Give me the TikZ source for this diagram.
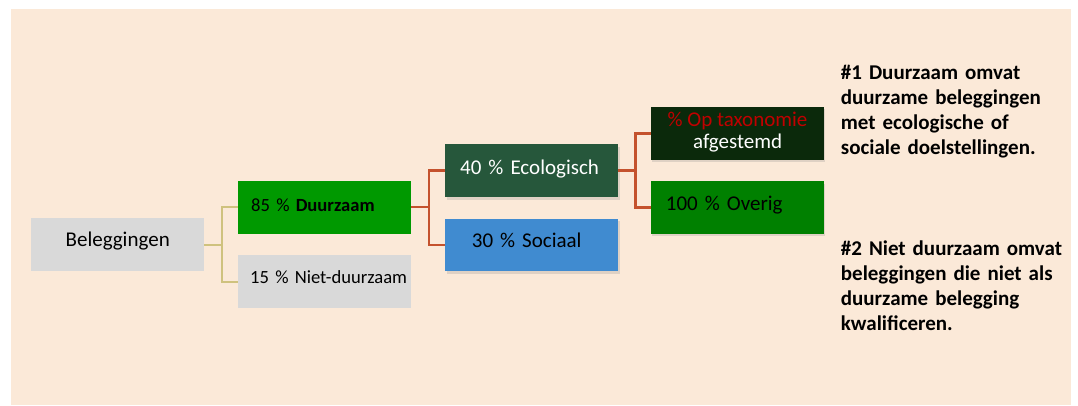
\documentclass[tikz,border=0pt]{standalone}
\usepackage{fontspec}
\setmainfont{Carlito}
\usetikzlibrary{shadows}
\definecolor{bgc}{HTML}{FBE9D8}
\definecolor{greyc}{HTML}{D9D9D9}
\definecolor{duuc}{HTML}{009900}
\definecolor{ecoc}{HTML}{26573B}
\definecolor{socc}{HTML}{408BD0}
\definecolor{taxc}{HTML}{0B290B}
\definecolor{ovec}{HTML}{008000}
\definecolor{redtxt}{HTML}{C00000}
\definecolor{redln}{HTML}{C4522D}
\definecolor{oliveln}{HTML}{CFC27E}
\begin{document}
\begin{tikzpicture}[x=1pt,y=-1pt,
  box/.style={draw=none, minimum width=173pt, minimum height=52.8pt, inner ysep=0pt,
    text depth=0pt, anchor=north west, font=\fontsize{21}{25}\selectfont},
  lbox/.style={box, inner xsep=0pt, text width=173pt, align=left},
  smallfont/.style={font=\fontsize{18.6}{22}\selectfont},
  shade/.style={drop shadow={opacity=0.22, shadow xshift=1.5pt, shadow yshift=-2.5pt}},
  oconn/.style={draw=oliveln, line width=2pt},
  rconn/.style={draw=redln, line width=2.4pt},
  note/.style={anchor=base west, inner sep=0pt, text width=240pt, align=left,
    font=\fontsize{21}{25}\selectfont\bfseries},
  txt/.style={anchor=base, inner sep=0pt, font=\fontsize{21}{25}\selectfont}]
\useasboundingbox (0,0) rectangle (1078,405);
\fill[bgc] (11,9) rectangle (1071,405);

\node[box, fill=greyc, text height=4.7pt] (bel) at (31,218) {Beleggingen};
\node[lbox, smallfont, fill=duuc, text height=8.7pt]
  (duu) at (238,180.5) {\hspace*{13pt}85 \% \textbf{Duurzaam}};
\node[lbox, smallfont, fill=greyc, text height=3.9pt]
  (niet) at (238,255) {\hspace*{12pt}15 \% Niet-duurzaam};
\node[lbox, shade, fill=ecoc, text=white, text height=7.9pt]
  (eco) at (445,144) {\hspace*{15pt}40 \% Ecologisch};
\node[lbox, shade, fill=socc, text height=5.6pt]
  (soc) at (445,218.3) {\hspace*{26.7pt}30 \% Sociaal};
\node[box, shade, fill=taxc] (tax) at (650.7,106.7) {};
\node[txt, text=redtxt] (taxa) at (737.5,126) {\% Op taxonomie};
\node[txt, text=white] (taxb) at (737.7,148.3) {afgestemd};
\node[lbox, shade, fill=ovec, text height=6.7pt]
  (ove) at (650.7,180.9) {\hspace*{15pt}100 \% Overig};

\draw[oconn] (bel.east) -- ++(17.3,0) coordinate (j1) |- (duu.west);
\draw[oconn] (j1) |- (niet.west);
\draw[rconn] (duu.east) -- ++(17.3,0) coordinate (j2) |- (eco.west);
\draw[rconn] (j2) |- (soc.west);
\draw[rconn] (eco.east) -- ++(17,0) coordinate (j3) |- (tax.west);
\draw[rconn] (j3) |- (ove.west);

\node[note] (n1) at (840.7,79) {\#1 Duurzaam omvat\\duurzame beleggingen\\met ecologische of\\sociale doelstellingen.};
\node[note] (n2) at (840.7,255.5) {\#2 Niet duurzaam omvat\\beleggingen die niet als\\duurzame belegging\\kwalificeren.};
\end{tikzpicture}
\end{document}
